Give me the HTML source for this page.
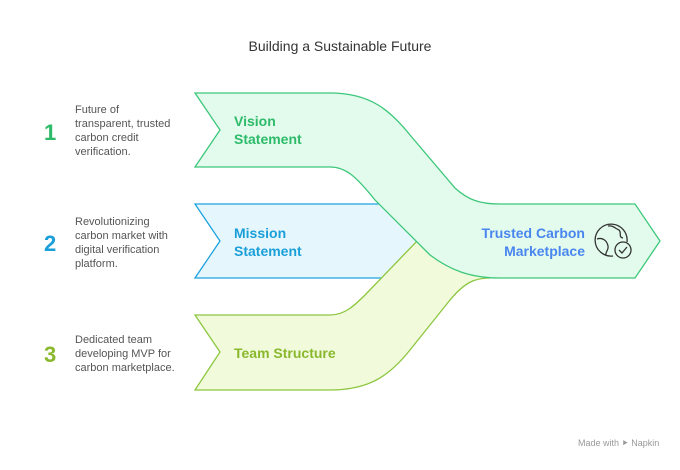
<!DOCTYPE html>
<html><head><meta charset="utf-8"><style>
body{margin:0;background:#fff;width:680px;height:465px;overflow:hidden;font-family:"Liberation Sans",sans-serif}
</style></head><body>
<svg width="680" height="465" viewBox="0 0 680 465" xmlns="http://www.w3.org/2000/svg" font-family="Liberation Sans, sans-serif">
<text x="340" y="51" text-anchor="middle" font-size="14" fill="#333">Building a Sustainable Future</text>
<!-- mission -->
<path d="M195,204 L420,204 L420,278 L195,278 L220,241 Z" fill="#e6f6fd"/>
<path d="M420,204 L195,204 L220,241 L195,278 L420,278" fill="none" stroke="#1ea3e0" stroke-width="1.3"/>
<!-- team -->
<path d="M195,315 L330,315 C345,315 355,305 365,295 L420,238 L500,270 L490,278 C475,278 465,282 450,300 L410,350 C390,375 370,390 330,390 L195,390 L220,352 Z" fill="#f1fbdc" stroke="#8dc63f" stroke-width="1.3"/>
<!-- vision -->
<path d="M195,93 L330,93 C370,93 390,110 410,135 L455,188 C468,200 480,204 500,204 L635,204 L660,241 L635,278 L500,278 C470,278 450,270 430,255 L375,200 C355,175 345,167 330,167 L195,167 L220,130 Z" fill="#e3fbec" stroke="#3cc77a" stroke-width="1.3"/>
<g font-weight="bold" font-size="14">
<text x="234" y="126" fill="#2dbb6a">Vision</text>
<text x="234" y="144" fill="#2dbb6a">Statement</text>
<text x="234" y="238" fill="#1a9fd9">Mission</text>
<text x="234" y="256" fill="#1a9fd9">Statement</text>
<text x="234" y="358" fill="#8ab82d">Team Structure</text>
<text x="585" y="238" fill="#4a86f0" text-anchor="end">Trusted Carbon</text>
<text x="585" y="256" fill="#4a86f0" text-anchor="end">Marketplace</text>
</g>
<g fill="none" stroke="#333" stroke-width="1.3">
<path d="M627,242 A16,16 0 1 0 613,256"/>
<path d="M597,239 C603,237 607,241 608,246 C609,250 605,252 606,255"/>
<path d="M608,226 C613,225 616,229 619,230 C622,233 618,237 623,238"/>
<circle cx="623" cy="250" r="8"/>
<path d="M619,250 L622,253 L627,247"/>
</g>
<g font-size="22" font-weight="bold">
<text x="44" y="140" fill="#2dbb6a">1</text>
<text x="44" y="251" fill="#1a9fd9">2</text>
<text x="44" y="362" fill="#8ab82d">3</text>
</g>
<g font-size="11" fill="#555">
<text x="75" y="113">Future of</text>
<text x="75" y="127">transparent, trusted</text>
<text x="75" y="141">carbon credit</text>
<text x="75" y="155">verification.</text>
<text x="75" y="225">Revolutionizing</text>
<text x="75" y="239">carbon market with</text>
<text x="75" y="253">digital verification</text>
<text x="75" y="267">platform.</text>
<text x="75" y="343">Dedicated team</text>
<text x="75" y="357">developing MVP for</text>
<text x="75" y="371">carbon marketplace.</text>
</g>
<text x="578" y="446" font-size="9" fill="#999">Made with ⯈ Napkin</text>
</svg>
</body></html>
